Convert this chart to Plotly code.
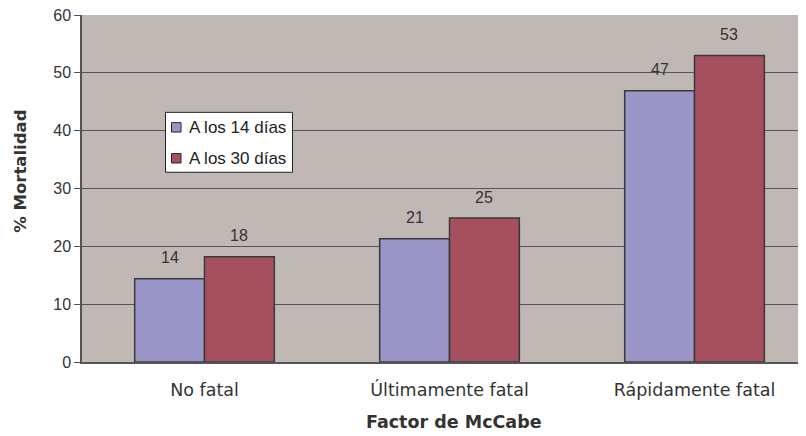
import plotly.graph_objects as go

categories = ["No fatal", "Últimamente fatal", "Rápidamente fatal"]
series_names = ["A los 14 días", "A los 30 días"]
values_14 = [14.4, 21.3, 46.9]
values_30 = [18.2, 24.9, 53.0]
labels_14 = ["14", "21", "47"]
labels_30 = ["18", "25", "53"]
y_ticks = [0, 10, 20, 30, 40, 50, 60]

colors = ["#9C96C8", "#A6505F"]
OFF = 8  # page body margin
W, H = 806 - OFF, 436 - OFF
L, R, T = 82 - OFF, 0, 15 - OFF
B = H - (362.5 - OFF)
BARGAP = 0.43
pw, ph = W - L - R, H - T - B

def px_x(x):
    return (x - OFF - L) / pw

def px_y(y):
    return (H - B - (y - OFF)) / ph

fig = go.Figure()
series = [(series_names[0], values_14, labels_14), (series_names[1], values_30, labels_30)]
for i, (name, vals, labs) in enumerate(series):
    fig.add_trace(go.Bar(
        x=categories, y=vals, name=name, showlegend=False,
        marker=dict(color=colors[i], line=dict(color="#383838", width=1.5)),
    ))

annotations = []
bw = (1 - BARGAP) / 2
for i, (name, vals, labs) in enumerate(series):
    off = (i - 0.5) * bw
    for j, (v, lab) in enumerate(zip(vals, labs)):
        annotations.append(dict(
            x=j + off, y=v, xref="x", yref="y", text=lab, showarrow=False,
            yanchor="middle", yshift=21,
            font=dict(family="Liberation Sans, Arial", size=16, color="#333333"),
        ))

annotations.append(dict(
    x=px_x(454), y=px_y(423), xref="paper", yref="paper", text="<b>Factor de McCabe</b>",
    showarrow=False, xanchor="center", yanchor="middle",
    font=dict(family="DejaVu Sans, Verdana", size=17.5, color="#333333"),
))
annotations.append(dict(
    x=px_x(21), y=px_y(171), xref="paper", yref="paper", text="<b>% Mortalidad</b>",
    showarrow=False, xanchor="center", yanchor="middle", textangle=-90,
    font=dict(family="DejaVu Sans, Verdana", size=16.5, color="#333333"),
))

shapes = [dict(type="rect", xref="paper", yref="paper",
               x0=px_x(165.5), x1=px_x(292.5), y0=px_y(112.5), y1=px_y(172.5),
               fillcolor="white", line=dict(color="#222222", width=1))]
leg_rows = [127.5, 158.5]
for i, name in enumerate(series_names):
    cy = leg_rows[i]
    shapes.append(dict(type="rect", xref="paper", yref="paper",
                       x0=px_x(171.5), x1=px_x(181), y0=px_y(cy - 4.7), y1=px_y(cy + 4.7),
                       fillcolor=colors[i], line=dict(color="#222222", width=1)))
    annotations.append(dict(
        x=px_x(186.5), y=px_y(cy), xref="paper", yref="paper", text=name,
        showarrow=False, xanchor="left", yanchor="middle",
        font=dict(family="Liberation Sans, Arial", size=17, color="#222222"),
    ))

fig.update_layout(
    width=W, height=H,
    margin=dict(l=L, r=R, t=T, b=B, autoexpand=False),
    paper_bgcolor="white",
    plot_bgcolor="#C0B8B5",
    barmode="group",
    bargap=BARGAP,
    bargroupgap=0,
    showlegend=False,
    annotations=annotations,
    shapes=shapes,
    xaxis=dict(
        range=[-0.5, 2.455],
        automargin=False,
        showgrid=False,
        showline=True, linecolor="#555555", linewidth=1.5,
        ticks="outside", ticklen=11, tickcolor="rgba(0,0,0,0)",
        tickfont=dict(family="DejaVu Sans, Verdana", size=17.5, color="#333333"),
        fixedrange=True,
    ),
    yaxis=dict(
        range=[0, 60],
        automargin=False,
        tickvals=y_ticks,
        showgrid=True, gridcolor="#555555", gridwidth=1,
        showline=True, linecolor="#555555", linewidth=1.5,
        ticks="outside", ticklen=6, tickcolor="#555555",
        tickfont=dict(family="Liberation Sans, Arial", size=16, color="#333333"),
        ticklabeloverflow="allow",
        zeroline=False,
        fixedrange=True,
    ),
)

fig.write_html("out.html")
